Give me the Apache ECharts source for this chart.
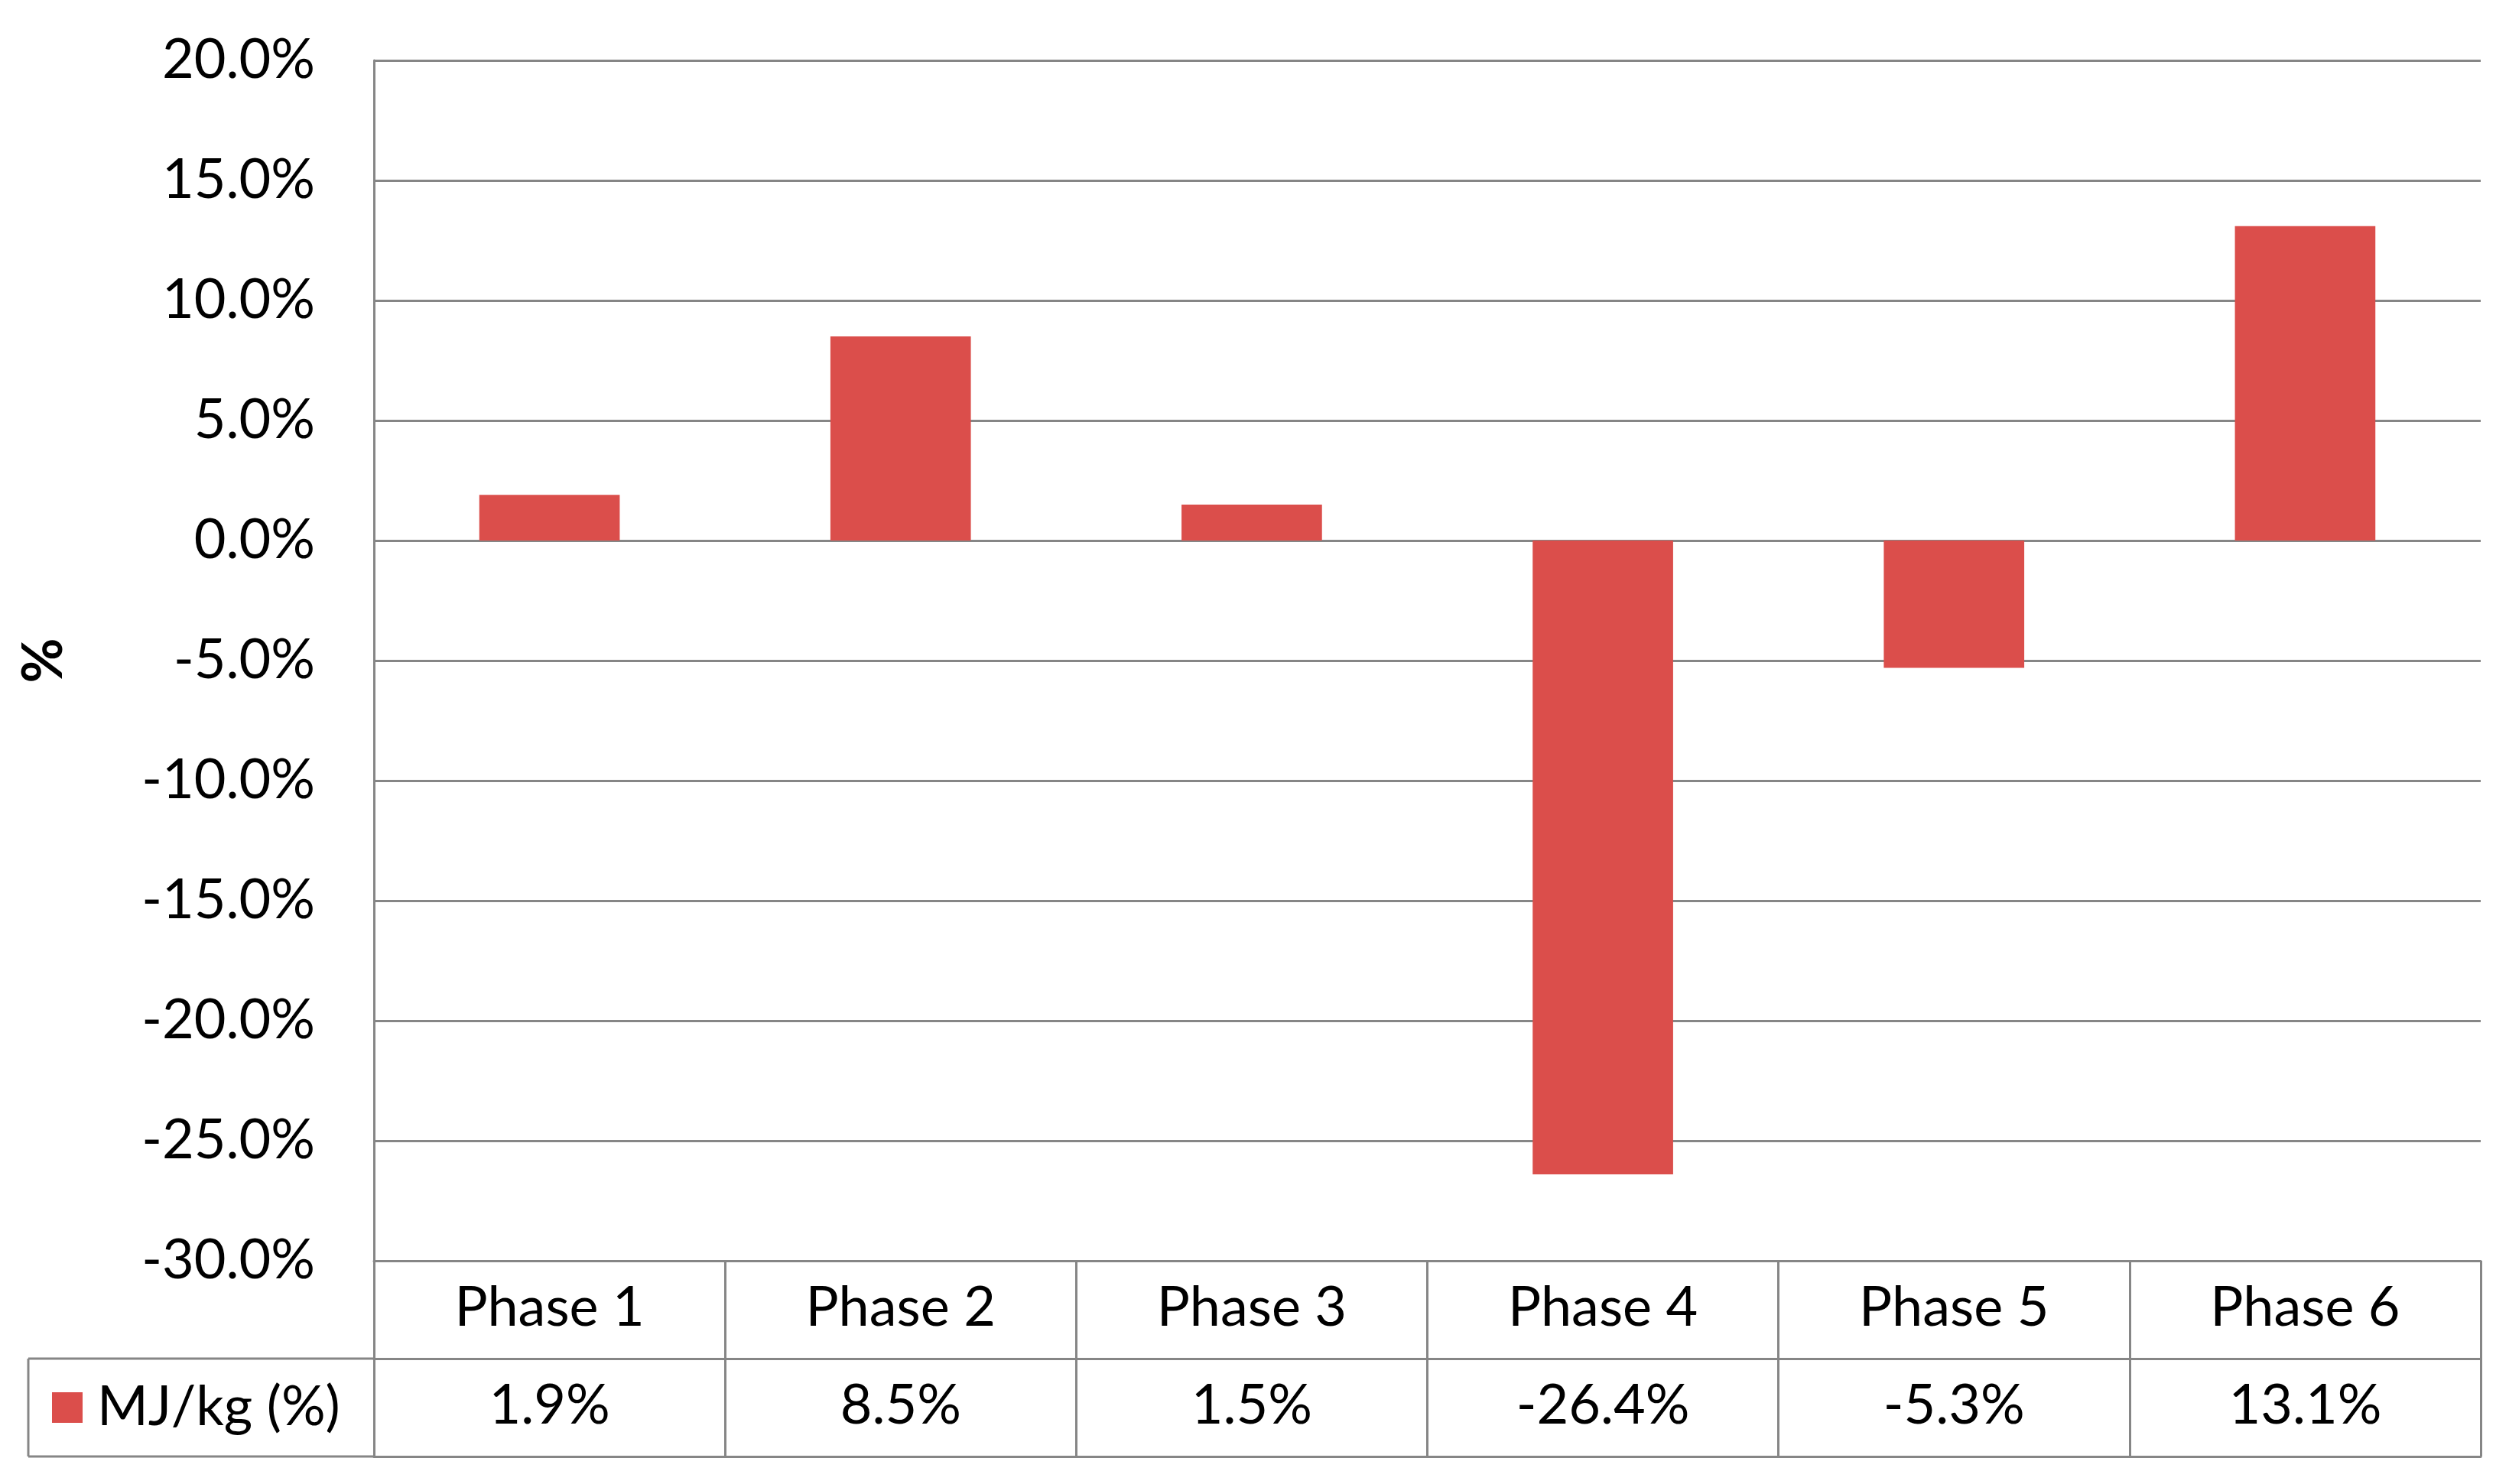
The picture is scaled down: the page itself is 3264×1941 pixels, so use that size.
<!DOCTYPE html>
<html>
<head>
<meta charset="utf-8">
<script src="https://cdn.jsdelivr.net/npm/echarts@6/dist/echarts.min.js"></script>
<style>
  html, body { margin: 0; padding: 0; background: #fff; }
  #main { width: 3264px; height: 1941px; }
</style>
</head>
<body>
<div id="main"></div>
<script>
// data
const phases = ['Phase 1', 'Phase 2', 'Phase 3', 'Phase 4', 'Phase 5', 'Phase 6'];
const mjkg = [1.9, 8.5, 1.5, -26.4, -5.3, 13.1];
const seriesName = 'MJ/kg (%)';

const gridCol = '#868686';
const barCol = '#DB4E4B';
const font = 'Lato';

// layout
const gLeft = 489, gRight = 20, gTop = 79, gBottom = 292;
const rowH = 128;
const axisY = 1941 - gBottom; // -30% line
const tblLeft = 37;

const pctFmt = function (v) { return v.toFixed(1) + '%'; };

const myChart = echarts.init(document.getElementById('main'));
const option = {
  animation: false,
  backgroundColor: '#fff',
  grid: { left: gLeft, right: gRight, top: gTop, bottom: gBottom, outerBoundsMode: 'none', containLabel: false },
  legend: {
    data: [seriesName],
    left: 68,
    top: axisY + rowH + 28,
    padding: 0,
    icon: 'rect',
    itemWidth: 40,
    itemHeight: 40,
    textStyle: { fontFamily: font, fontSize: 72, color: '#000', padding: [0, 0, 0, 14] },
  },
  xAxis: [
    {
      type: 'category',
      data: phases,
      position: 'bottom',
      axisLine: { show: true, onZero: false, lineStyle: { color: gridCol, width: 3 } },
      axisTick: { show: true, interval: 0, length: rowH * 2, lineStyle: { color: gridCol, width: 3 } },
      axisLabel: { interval: 0, margin: 26, fontFamily: font, fontSize: 72, color: '#000', lineHeight: 72 },
    },
    {
      type: 'category',
      data: phases,
      position: 'bottom',
      offset: rowH,
      axisLine: { show: true, onZero: false, lineStyle: { color: gridCol, width: 3 } },
      axisTick: { show: false },
      axisLabel: {
        interval: 0, margin: 26, fontFamily: font, fontSize: 72, color: '#000', lineHeight: 72,
        formatter: function (v, i) { return pctFmt(mjkg[i]); },
      },
    },
    {
      type: 'category',
      data: phases,
      position: 'bottom',
      offset: rowH * 2,
      axisLine: { show: true, onZero: false, lineStyle: { color: gridCol, width: 3 } },
      axisTick: { show: false },
      axisLabel: { show: false },
    },
  ],
  yAxis: {
    type: 'value',
    min: -30,
    max: 20,
    interval: 5,
    name: '%',
    nameLocation: 'middle',
    nameRotate: 90,
    nameGap: 395,
    nameTextStyle: { fontFamily: font, fontSize: 72, fontWeight: 'bold', color: '#000' },
    axisLine: { show: true, lineStyle: { color: gridCol, width: 3 } },
    axisTick: { show: false },
    axisLabel: { margin: 77, fontFamily: font, fontSize: 72, color: '#000', formatter: pctFmt },
    splitLine: { show: true, lineStyle: { color: gridCol, width: 3 } },
  },
  graphic: [
    { type: 'line', shape: { x1: tblLeft, y1: axisY + rowH, x2: gLeft, y2: axisY + rowH }, style: { stroke: gridCol, lineWidth: 3 } },
    { type: 'line', shape: { x1: tblLeft, y1: axisY + rowH * 2, x2: gLeft, y2: axisY + rowH * 2 }, style: { stroke: gridCol, lineWidth: 3 } },
    { type: 'line', shape: { x1: tblLeft, y1: axisY + rowH, x2: tblLeft, y2: axisY + rowH * 2 }, style: { stroke: gridCol, lineWidth: 3 } },
  ],
  series: [
    {
      name: seriesName,
      type: 'bar',
      data: mjkg,
      barCategoryGap: '60%',
      itemStyle: { color: barCol },
    },
  ],
};
myChart.setOption(option);
window.onresize = myChart.resize;
</script>
</body>
</html>
